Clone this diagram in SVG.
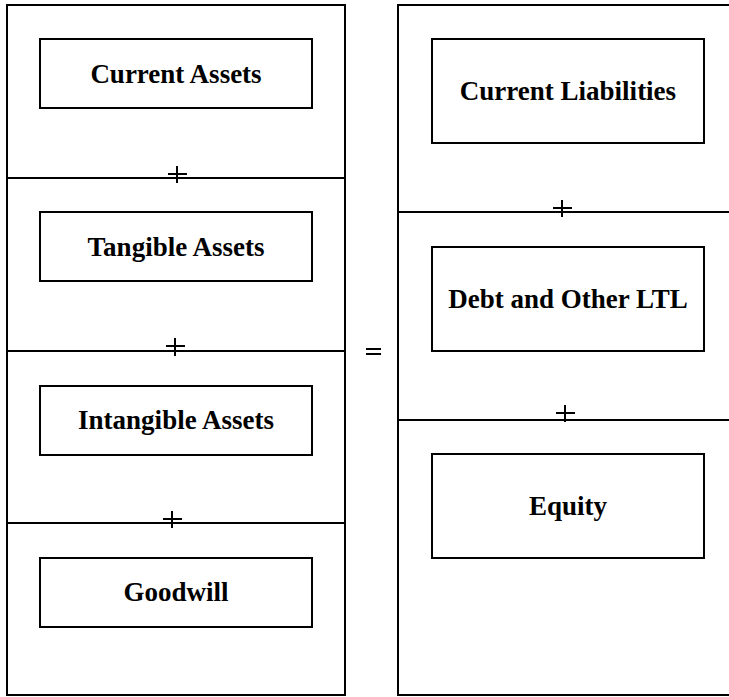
<svg xmlns="http://www.w3.org/2000/svg" width="729" height="697" viewBox="0 0 729 697">
<style>
.frame{fill:none;stroke:#000;stroke-width:2}
.box{fill:#fff;stroke:#000;stroke-width:2}
.lbl{font-family:"Liberation Serif","Times New Roman",serif;font-weight:bold;font-size:27px;fill:#000;text-anchor:middle}
.op{stroke:#000;stroke-width:2;fill:none}
</style>
<rect width="729" height="697" fill="#fff"/>
<g id="connectors">
<rect class="frame" x="7" y="5" width="338" height="690"/>
<line class="frame" x1="7" y1="178" x2="345" y2="178"/>
<line class="frame" x1="7" y1="351" x2="345" y2="351"/>
<line class="frame" x1="7" y1="523" x2="345" y2="523"/>
<path class="frame" d="M731,5 H398 V695 H731"/>
<line class="frame" x1="398" y1="212" x2="731" y2="212"/>
<line class="frame" x1="398" y1="420" x2="731" y2="420"/>
<path class="op" d="M168,174 H187 M177,166 V183"/>
<path class="op" d="M166,346 H185 M175,338 V356"/>
<path class="op" d="M163,519 H182 M172,511 V528"/>
<path class="op" d="M553,208 H572 M562,200 V217"/>
<path class="op" d="M556,413 H575 M565,405 V422"/>
<path class="op" d="M366,349 H381 M366,354 H381" stroke-width="1.5"/>
</g>
<g id="current-assets"><rect class="box" x="40" y="39" width="272" height="69"/><text class="lbl" x="176" y="83">Current Assets</text></g>
<g id="tangible-assets"><rect class="box" x="40" y="212" width="272" height="69"/><text class="lbl" x="176" y="256">Tangible Assets</text></g>
<g id="intangible-assets"><rect class="box" x="40" y="386" width="272" height="69"/><text class="lbl" x="176" y="429">Intangible Assets</text></g>
<g id="goodwill"><rect class="box" x="40" y="558" width="272" height="69"/><text class="lbl" x="176" y="601">Goodwill</text></g>
<g id="current-liabilities"><rect class="box" x="432" y="39" width="272" height="104"/><text class="lbl" x="568" y="100">Current Liabilities</text></g>
<g id="debt-ltl"><rect class="box" x="432" y="247" width="272" height="104"/><text class="lbl" x="568" y="308">Debt and Other LTL</text></g>
<g id="equity"><rect class="box" x="432" y="454" width="272" height="104"/><text class="lbl" x="568" y="515">Equity</text></g>
</svg>
